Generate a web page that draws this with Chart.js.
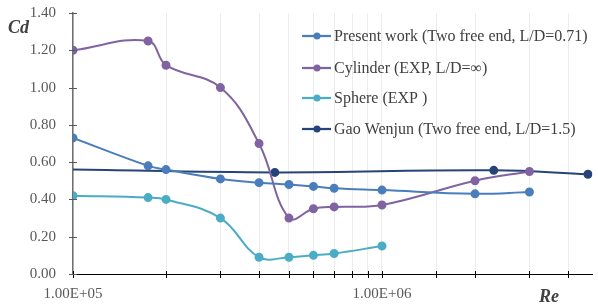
<!DOCTYPE html>
<html>
<head>
<meta charset="utf-8">
<script src="https://cdn.jsdelivr.net/npm/chart.js@4.4.1/dist/chart.umd.min.js"></script>
<style>
  html, body { margin: 0; padding: 0; background: #fff; }
  #wrap { width: 598px; height: 306px; }
</style>
</head>
<body>
<div id="wrap"><canvas id="chart"></canvas></div>
<script>
// Reynolds numbers and drag coefficients
var presentRe = [1e5, 1.75e5, 2e5, 3e5, 4e5, 5e5, 6e5, 7e5, 1e6, 2e6, 3e6];
var presentCd = [0.73, 0.58, 0.56, 0.51, 0.49, 0.48, 0.47, 0.46, 0.45, 0.43, 0.44];

var cylinderRe = [1e5, 1.75e5, 2e5, 3e5, 4e5, 5e5, 6e5, 7e5, 1e6, 2e6, 3e6];
var cylinderCd = [1.20, 1.25, 1.12, 1.00, 0.70, 0.30, 0.35, 0.36, 0.37, 0.50, 0.55];

var sphereRe = [1e5, 1.75e5, 2e5, 3e5, 4e5, 5e5, 6e5, 7e5, 1e6];
var sphereCd = [0.42, 0.41, 0.40, 0.30, 0.09, 0.09, 0.10, 0.11, 0.15];

var gaoRe = [1e5, 4.5e5, 2.3e6, 4.64e6];
var gaoCd = [0.56, 0.545, 0.556, 0.535];

var labels = [
  'Present work (Two free end, L/D=0.71)',
  'Cylinder (EXP, L/D=\u221e)',
  'Sphere (EXP )',
  'Gao Wenjun (Two free end, L/D=1.5)'
];
var colors = ['#4a7ebb', '#8064a2', '#4bacc6', '#264478'];
var yTicks = [0, 0.2, 0.4, 0.6, 0.8, 1.0, 1.2, 1.4];

function pts(xs, ys) {
  return xs.map(function (x, i) { return { x: x, y: ys[i] }; });
}

function series(i, data, radius) {
  return {
    label: labels[i],
    data: data,
    borderColor: colors[i],
    backgroundColor: colors[i],
    borderWidth: 2,
    pointRadius: radius,
    pointHoverRadius: 3.5,
    tension: 0.4
  };
}

var serif = '"Liberation Serif", "Times New Roman", serif';

// legend with line + dot, plus the italic axis names and crossing tick marks
var extras = {
  id: 'extras',
  afterDraw: function (chart) {
    var ctx = chart.ctx;
    var xs = chart.scales.x, ys = chart.scales.y;
    var area = chart.chartArea;
    ctx.save();
    ctx.lineWidth = 1;
    ctx.strokeStyle = '#000';
    xs.ticks.forEach(function (t) {
      var px = Math.round(xs.getPixelForValue(t.value)) + 0.5;
      ctx.beginPath();
      ctx.moveTo(px, area.bottom - 3);
      ctx.lineTo(px, area.bottom + 4);
      ctx.stroke();
    });
    ctx.strokeStyle = '#595959';
    yTicks.forEach(function (v) {
      var py = Math.round(ys.getPixelForValue(v)) + 0.5;
      ctx.beginPath();
      ctx.moveTo(area.left - 4, py);
      ctx.lineTo(area.left + 4, py);
      ctx.stroke();
    });

    ctx.fillStyle = '#404040';
    ctx.font = 'bold italic 18px ' + serif;
    ctx.textBaseline = 'middle';
    ctx.textAlign = 'left';
    ctx.fillText('Cd', 8, 28);
    ctx.fillText('Re', 539, 297);

    var rows = [36, 68, 98, 129];
    ctx.font = '16px ' + serif;
    rows.forEach(function (y, i) {
      ctx.strokeStyle = colors[i];
      ctx.lineWidth = 2.25;
      ctx.beginPath();
      ctx.moveTo(302, y);
      ctx.lineTo(331, y);
      ctx.stroke();
      ctx.fillStyle = colors[i];
      ctx.beginPath();
      ctx.arc(317, y, 3.5, 0, Math.PI * 2);
      ctx.fill();
      ctx.fillStyle = '#404040';
      ctx.fillText(labels[i], 334, y + 1);
    });
    ctx.restore();
  }
};

new Chart(document.getElementById('chart'), {
  type: 'line',
  data: {
    datasets: [
      series(0, pts(presentRe, presentCd), 3.5),
      series(1, pts(cylinderRe, cylinderCd), 3.5),
      series(2, pts(sphereRe, sphereCd), 3.5),
      series(3, pts(gaoRe, gaoCd), [0, 3.5, 3.5, 3.5])
    ]
  },
  options: {
    responsive: true,
    maintainAspectRatio: false,
    animation: false,
    layout: { padding: { top: 13, right: 0, left: 0, bottom: 0 } },
    plugins: {
      legend: { display: false },
      tooltip: { enabled: false }
    },
    scales: {
      x: {
        type: 'logarithmic',
        min: 1e5,
        max: 4.8e6,
        afterBuildTicks: function (scale) {
          scale.ticks = scale.ticks.filter(function (t) { return t.value <= 4.01e6; });
        },
        afterFit: function (scale) { scale.height = 32; },
        border: { display: true, color: '#000', width: 1 },
        grid: { display: true, color: '#ececec', drawTicks: false },
        ticks: {
          autoSkip: false,
          maxRotation: 0,
          padding: 11,
          color: '#595959',
          font: { family: serif, size: 15 },
          callback: function (v) {
            if (v === 1e5) return '1.00E+05';
            if (v === 1e6) return '1.00E+06';
            return '';
          }
        }
      },
      y: {
        min: 0,
        max: 1.4,
        afterBuildTicks: function (scale) {
          scale.ticks = yTicks.map(function (v) { return { value: v }; });
        },
        afterFit: function (scale) { scale.width = 73; },
        border: { display: true, color: '#6f6f6f', width: 1.5 },
        grid: { display: false, drawTicks: true, tickLength: 17 },
        ticks: {
          padding: 0,
          color: '#595959',
          font: { family: serif, size: 15 },
          callback: function (v) { return v.toFixed(2); }
        }
      }
    }
  },
  plugins: [extras]
});
</script>
</body>
</html>
